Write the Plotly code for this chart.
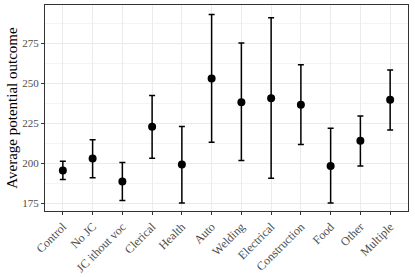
import plotly.graph_objects as go

categories = ["Control", "No JC", "JC ithout voc", "Clerical", "Health", "Auto",
              "Welding", "Electrical", "Construction", "Food", "Other", "Multiple"]
estimate = [195.6, 203.1, 188.8, 222.9, 199.4, 253.1, 238.3, 240.8, 236.7, 198.5, 214.2, 239.8]
lower = [190.0, 191.2, 176.9, 203.3, 175.4, 213.3, 201.9, 190.8, 211.9, 175.4, 198.5, 221.0]
upper = [201.4, 214.8, 200.6, 242.5, 223.1, 292.9, 275.2, 291.0, 261.7, 222.0, 229.6, 258.3]
yticks = [175, 200, 225, 250, 275]

err_plus = [u - e for u, e in zip(upper, estimate)]
err_minus = [e - l for e, l in zip(estimate, lower)]

fig = go.Figure()
fig.add_trace(go.Scatter(
    x=categories, y=estimate, mode="markers",
    marker=dict(color="black", size=8),
    error_y=dict(type="data", symmetric=False, array=err_plus, arrayminus=err_minus,
                 color="black", thickness=1.5, width=3),
    showlegend=False,
))

fig.update_layout(
    width=415, height=277,
    margin=dict(l=45, r=7, t=5, b=66),
    paper_bgcolor="white", plot_bgcolor="white",
    font=dict(family="Liberation Serif", color="#4D4D4D", size=11),
    xaxis=dict(
        type="category", categoryorder="array", categoryarray=categories,
        range=[-0.6, 11.6], tickangle=-45, automargin=False,
        showgrid=True, gridcolor="#EBEBEB", gridwidth=1,
        ticks="outside", ticklen=3, tickcolor="#333333",
        showline=True, linecolor="#333333", mirror=True, linewidth=1,
        zeroline=False, tickfont=dict(size=12, color="#4D4D4D"),
    ),
    yaxis=dict(
        range=[170.4, 298.9], tickvals=yticks, automargin=False,
        showgrid=True, gridcolor="#EBEBEB", gridwidth=1,
        minor=dict(dtick=12.5, tick0=162.5, showgrid=True, gridcolor="#F4F4F4", gridwidth=0.6),
        ticks="outside", ticklen=3, tickcolor="#333333",
        showline=True, linecolor="#333333", mirror=True, linewidth=1,
        zeroline=False, tickfont=dict(size=11, color="#4D4D4D"),
        title=dict(text="Average potential outcome", font=dict(size=15, color="black"), standoff=1),
    ),
)

fig.write_html("out.html", config={"displayModeBar": False},
               post_script="document.body.style.margin='0';document.body.style.overflow='hidden';")
